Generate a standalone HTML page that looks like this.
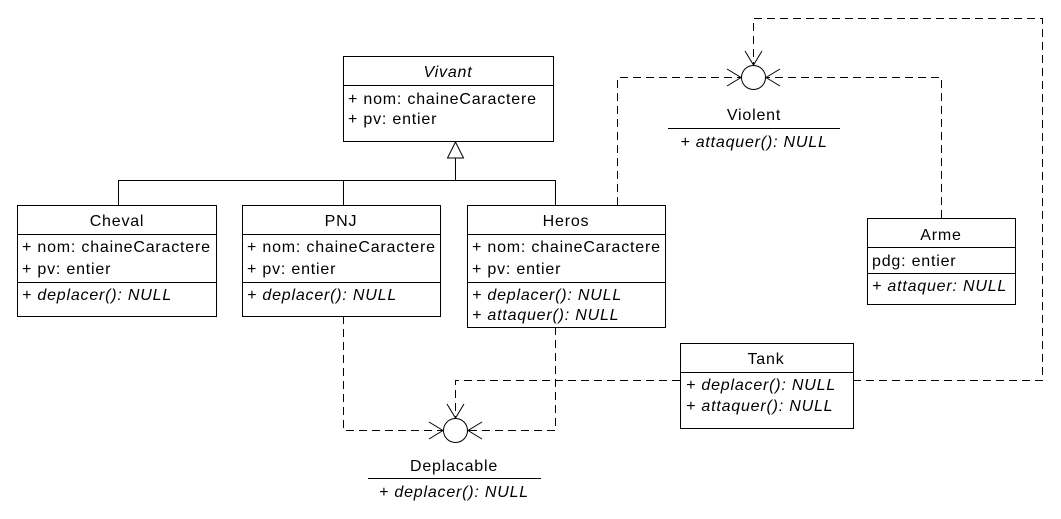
<!DOCTYPE html>
<html><head><meta charset="utf-8"><style>
html,body{margin:0;padding:0;background:#fff}
svg{display:block}
text{font-family:"Liberation Sans",Arial,sans-serif;font-size:16px;letter-spacing:0.8px;fill:#000}
.i{font-style:italic}
</style></head><body>
<svg width="1061" height="519" viewBox="0 0 1061 519" xmlns="http://www.w3.org/2000/svg">
<g fill="none" stroke="#000" stroke-width="1">
<rect x="343.5" y="56.5" width="210" height="85"/>
<line x1="343" y1="85.5" x2="553" y2="85.5"/>
<rect x="17.5" y="205.5" width="199" height="111"/>
<line x1="17" y1="234.5" x2="216" y2="234.5"/>
<line x1="17" y1="282.5" x2="216" y2="282.5"/>
<rect x="242.5" y="205.5" width="198" height="111"/>
<line x1="242" y1="234.5" x2="440" y2="234.5"/>
<line x1="242" y1="282.5" x2="440" y2="282.5"/>
<rect x="467.5" y="205.5" width="198" height="122"/>
<line x1="467" y1="234.5" x2="665" y2="234.5"/>
<line x1="467" y1="282.5" x2="665" y2="282.5"/>
<rect x="867.5" y="218.5" width="148" height="86"/>
<line x1="867" y1="247.5" x2="1015" y2="247.5"/>
<line x1="867" y1="273.5" x2="1015" y2="273.5"/>
<rect x="680.5" y="343.5" width="173" height="85"/>
<line x1="680" y1="372.5" x2="853" y2="372.5"/>
<polyline points="118.5,205 118.5,180.5 555.5,180.5 555.5,205"/>
<line x1="343.5" y1="180" x2="343.5" y2="205"/>
<line x1="455.5" y1="158" x2="455.5" y2="180"/>
<polygon points="455.5,142 447.5,158 463.5,158"/>
<circle cx="753.5" cy="77.5" r="12"/>
<circle cx="455.5" cy="430.5" r="12"/>
<line x1="668" y1="128.5" x2="840" y2="128.5"/>
<line x1="368" y1="478.5" x2="541" y2="478.5"/>
<g stroke-dasharray="8,5">
<polyline points="617.5,205 617.5,77.5 741,77.5"/>
<polyline points="941.5,218 941.5,77.5 766,77.5"/>
<polyline points="853,380.5 1042.5,380.5 1042.5,18.5 753.5,18.5 753.5,65"/>
<polyline points="343.5,316 343.5,430.5 443,430.5"/>
<polyline points="555.5,327 555.5,430.5 468,430.5"/>
<polyline points="680,380.5 455.5,380.5 455.5,418"/>
</g>
<polyline points="727,69 741,77.5 727,86"/>
<polyline points="780,69 766,77.5 780,86"/>
<polyline points="745,51 753.5,65 762,51"/>
<polyline points="429,422 443,430.5 429,439"/>
<polyline points="482,422 468,430.5 482,439"/>
<polyline points="447,404 455.5,418 464,404"/>
</g>
<text x="448" y="77" text-anchor="middle" class="i">Vivant</text>
<text x="348" y="104">+ nom: chaineCaractere</text>
<text x="348" y="124">+ pv: entier</text>

<text x="117" y="226" text-anchor="middle">Cheval</text>
<text x="22" y="252">+ nom: chaineCaractere</text>
<text x="22" y="274">+ pv: entier</text>
<text x="22" y="300" class="i">+ deplacer(): NULL</text>

<text x="341" y="226" text-anchor="middle">PNJ</text>
<text x="247" y="252">+ nom: chaineCaractere</text>
<text x="247" y="274">+ pv: entier</text>
<text x="247" y="300" class="i">+ deplacer(): NULL</text>

<text x="566" y="226" text-anchor="middle">Heros</text>
<text x="472" y="252">+ nom: chaineCaractere</text>
<text x="472" y="274">+ pv: entier</text>
<text x="472" y="300" class="i">+ deplacer(): NULL</text>
<text x="472" y="320" class="i">+ attaquer(): NULL</text>

<text x="941" y="240" text-anchor="middle">Arme</text>
<text x="872" y="266">pdg: entier</text>
<text x="872" y="291" class="i">+ attaquer: NULL</text>

<text x="766" y="364" text-anchor="middle">Tank</text>
<text x="686" y="390" class="i">+ deplacer(): NULL</text>
<text x="686" y="411" class="i">+ attaquer(): NULL</text>

<text x="754" y="120" text-anchor="middle">Violent</text>
<text x="754" y="147" text-anchor="middle" class="i">+ attaquer(): NULL</text>
<text x="454" y="471" text-anchor="middle">Deplacable</text>
<text x="454" y="497" text-anchor="middle" class="i">+ deplacer(): NULL</text>
</svg>
</body></html>
